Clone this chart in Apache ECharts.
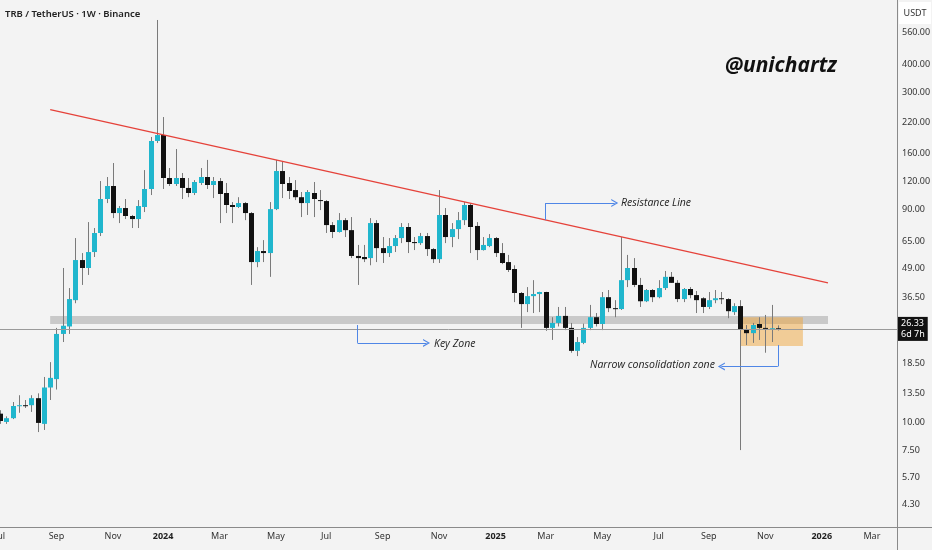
<!DOCTYPE html>
<html>
<head>
<meta charset="utf-8">
<script src="https://cdn.jsdelivr.net/npm/echarts@6/dist/echarts.min.js"></script>
<style>
  html, body { margin: 0; padding: 0; background: #f3f3f3; }
  #chart { width: 932px; height: 550px; }
</style>
</head>
<body>
<div id="chart"></div>
<script>
// weekly TRB/USDT candles, first bar = week of 2023-07-03
let weekStart = '2023-07-03'
let weekCount = 144

// [open, close, low, high]
let ohlc = [
  [11.0, 10.2, 9.9, 11.4], [10.1, 10.5, 9.9, 10.7], [10.5, 11.9, 10.4, 12.4], [11.9, 12.0, 11.1, 13.3],
  [12.0, 11.95, 11.66, 12.66], [12.0, 12.9, 11.2, 13.3], [12.9, 10.0, 9.1, 13.56], [9.9, 14.4, 9.3, 16.05],
  [14.4, 15.9, 12.66, 18.7], [15.7, 25.0, 14.1, 26.6], [25.0, 27.2, 23.0, 49.3], [27.0, 35.8, 25.0, 40.1],
  [35.4, 53.5, 34.3, 67.1], [53.5, 49.3, 41.4, 57.5], [49.3, 58.1, 45.9, 79.1], [58.1, 70.7, 55.2, 74.4],
  [70.7, 100.3, 68.5, 120.7], [100.3, 114.7, 96.2, 125.8], [114.7, 86.8, 82.4, 145.3], [86.8, 91.4, 78.3, 93.3],
  [91.4, 84.2, 81.6, 100.3], [84.2, 81.6, 74.4, 85.1], [81.6, 93.3, 74.4, 99.2], [92.4, 111.2, 87.7, 135.1],
  [111.2, 182.3, 104.5, 190], [182.3, 193.8, 178.5, 633.7], [193.8, 124.5, 111.2, 233.3], [124.5, 117.1, 114.7, 138.0],
  [117.1, 124.5, 114.7, 167.8], [124.5, 112.4, 100.3, 131.1], [112.4, 106.7, 102.2, 124.5], [106.7, 119.5, 104.5, 121.9],
  [118.3, 125.8, 115.9, 138], [125.8, 115.9, 111.2, 150], [115.9, 120.7, 101.3, 125.8], [120.7, 105.6, 78.3, 124.5],
  [106.7, 94.3, 86.8, 118.3], [94.3, 92.4, 78.3, 97.2], [92.4, 96.2, 91.4, 102.2], [96.2, 86.8, 80.7, 97.2],
  [86.8, 52.4, 41.4, 87.7], [52.4, 58.7, 49.7, 61.1], [58.7, 57.5, 52.4, 65.7], [57.5, 90.4, 45.0, 97.2],
  [90.4, 133.8, 89.5, 150], [133.8, 117.1, 101.3, 146.8], [118.3, 108.9, 100.3, 125.8], [110, 102.2, 99.2, 121.9],
  [102.2, 96.2, 83.3, 107.8], [96.2, 107.8, 85.1, 110], [106.7, 100.3, 83.3, 119.5], [99.2, 98.2, 89.5, 110],
  [98.2, 76.7, 70.7, 99.2], [76.7, 71.4, 67.1, 79.1], [71.4, 80.7, 71.0, 86.8], [80.7, 72.8, 67.8, 82.4],
  [72.8, 55.8, 54.6, 83.3], [55.8, 54.6, 41.4, 62.5], [55.2, 54.0, 52.4, 62.5], [54.6, 78.3, 50.7, 82.4],
  [78.3, 60.5, 52.4, 80.7], [60.5, 57.5, 51.9, 67.8], [57.5, 61.8, 55.2, 67.1], [61.8, 67.1, 58.1, 69.2],
  [67.1, 75.2, 63.7, 78.3], [75.2, 64.4, 57.5, 78.3], [64.4, 63.7, 59.3, 67.8], [63.7, 68.5, 62.5, 70.7],
  [68.5, 59.9, 55.8, 70.7], [59.9, 54.0, 51.9, 60.5], [54.0, 85.1, 51.9, 110], [85.1, 67.8, 63.7, 91.4],
  [67.8, 73.6, 61.1, 78.3], [73.6, 80.7, 66.4, 87.7], [80.7, 94.3, 76.7, 97.2], [94.3, 75.2, 57.5, 96.2],
  [76.0, 59.3, 53.5, 79.1], [59.3, 62.5, 59.0, 67.8], [61.8, 67.1, 61.1, 69.9], [67.1, 57.5, 55.2, 67.8],
  [57.5, 51.9, 51.3, 63.7], [52.4, 48.3, 47.3, 56.4], [48.8, 38.1, 34.7, 50.7], [38.1, 34.0, 26.6, 38.5],
  [34.0, 36.9, 31.3, 40.5], [36.9, 37.7, 31.0, 43.5], [37.7, 38.5, 31.3, 38.6], [38.5, 26.6, 25.8, 38.6],
  [26.6, 28.0, 23.5, 29.7], [28.0, 30.1, 27.0, 33.0], [30.1, 26.6, 26.0, 33.0], [26.6, 21.0, 20.6, 28.0],
  [21.0, 23.0, 19.9, 24.2], [22.8, 26.6, 22.5, 27.8], [26.6, 29.7, 26.0, 33.7], [29.7, 27.7, 27.0, 31.0],
  [27.7, 36.5, 26.0, 38.5], [36.5, 32.6, 31.3, 39.3], [32.6, 32.3, 29.7, 35.4], [32.3, 43.5, 32.0, 67.8],
  [43.5, 49.3, 40.5, 56.4], [49.3, 41.4, 40.5, 54.6], [41.4, 35.0, 33.0, 44.5], [35.0, 39.3, 34.7, 39.7],
  [39.3, 36.5, 34.7, 39.7], [36.5, 40.1, 36.1, 43.5], [40.1, 45.0, 39.3, 47.8], [45.0, 42.3, 42.3, 47.3],
  [42.3, 35.8, 34.7, 43.5], [35.8, 39.7, 34.7, 40.1], [39.7, 37.3, 36.1, 40.5], [37.3, 35.4, 31.0, 38.9],
  [36.1, 33.0, 31.0, 36.5], [33.0, 35.4, 32.3, 38.5], [35.4, 36.1, 34.3, 39.3], [36.1, 35.8, 34.0, 38.5],
  [35.8, 31.6, 29.4, 36.1], [31.3, 33.3, 30.4, 34.3], [33.3, 26.3, 7.56, 35.4], [26.3, 25.2, 22.3, 27.4],
  [25.2, 27.4, 22.8, 28.0], [27.7, 26.6, 23.5, 29.7], [26.6, 26.4, 20.6, 30.4], [26.4, 26.5, 23.0, 33.7],
  [26.5, 26.33, 25.9, 27.3]
]

let priceTicks = [560, 400, 300, 220, 160, 120, 90, 65, 49, 36.5, 18.5, 13.5, 10, 7.5, 5.7, 4.3]
let lastPrice = 26.33
let countdown = '6d 7h'
let monthNames = ['Jan','Feb','Mar','Apr','May','Jun','Jul','Aug','Sep','Oct','Nov','Dec']

// drawn levels (bar index, price)
let resistance = [[8, 252], [132, 42.3]]
let keyZone = { from: 8, to: 132, low: 27.7, high: 30.1 }
let consolidation = { from: 118, to: 128, low: 22.1, high: 29.7 }

let categories = []
let t0 = Date.parse(weekStart + 'T00:00:00Z')
for (let i = 0; i < weekCount; i++) {
  categories.push(new Date(t0 + i * 7 * 864e5).toISOString().slice(0, 10))
}
let candles = ohlc.map((d, i) => [i].concat(d))

let up = '#20b6cd', down = '#111111', wick = '#7a7a7a', blue = '#4f86e6'
let chevron = 'path://M0,10 L5,0 L10,10 L8.4,10 L5,3.2 L1.6,10 Z'

function arrowLeg(a, b, head) {
  return [
    { coord: a, symbol: 'none' },
    { coord: b, symbol: head ? chevron : 'none', symbolSize: [8, 7] }
  ]
}

let chart = echarts.init(document.getElementById('chart'))
chart.setOption({
  animation: false,
  backgroundColor: '#f3f3f3',
  grid: { left: 0, right: 35, top: 0, bottom: 23, containLabel: false, outerBoundsMode: 'none' },
  xAxis: {
    type: 'category',
    data: categories,
    boundaryGap: false,
    axisLine: { show: false },
    axisTick: { show: false },
    splitLine: { show: false },
    axisLabel: {
      color: '#333',
      fontSize: 9,
      fontFamily: 'Noto Sans',
      margin: 5,
      interval: function (idx, val) {
        let m = new Date(val).getUTCMonth()
        if (m % 2 !== 0) return false
        return idx === 0 || new Date(categories[idx - 1]).getUTCMonth() !== m
      },
      formatter: function (val) {
        let d = new Date(val)
        let m = d.getUTCMonth()
        return m === 0 ? '{y|' + d.getUTCFullYear() + '}' : monthNames[m]
      },
      rich: { y: { fontWeight: 'bold', fontSize: 9, color: '#222', fontFamily: 'Noto Sans' } }
    }
  },
  yAxis: {
    type: 'log',
    logBase: 10,
    min: 3.424,
    max: 778.6,
    position: 'right',
    axisLine: { show: false },
    axisTick: { show: false },
    axisLabel: { show: false },
    splitLine: { show: false }
  },
  series: [
    {
      // key zone band, under the candles
      type: 'line',
      data: [],
      z: 1,
      silent: true,
      markArea: {
        silent: true,
        itemStyle: { color: 'rgba(165,165,165,0.55)' },
        data: [[{ coord: [keyZone.from, keyZone.low] }, { coord: [keyZone.to, keyZone.high] }]]
      }
    },
    {
      type: 'custom',
      z: 2,
      data: candles,
      encode: { x: 0, y: [1, 2, 3, 4] },
      renderItem: function (params, api) {
        let x = api.value(0)
        let o = api.value(1), c = api.value(2), l = api.value(3), h = api.value(4)
        let pO = api.coord([x, o]), pC = api.coord([x, c])
        let pL = api.coord([x, l]), pH = api.coord([x, h])
        let cx = Math.round(pO[0])
        let w = 5
        let top = Math.min(pO[1], pC[1])
        let hgt = Math.max(1, Math.abs(pO[1] - pC[1]))
        return {
          type: 'group',
          children: [
            { type: 'line', shape: { x1: cx + 0.5, y1: pH[1], x2: cx + 0.5, y2: pL[1] }, style: { stroke: wick, lineWidth: 1 } },
            { type: 'rect', shape: { x: cx + 0.5 - w / 2, y: top, width: w, height: hgt }, style: { fill: c >= o ? up : down } }
          ]
        }
      },
      markLine: {
        silent: true,
        symbol: 'none',
        animation: false,
        data: priceTicks.map(v => ({
          yAxis: v,
          lineStyle: { color: 'rgba(0,0,0,0)', width: 0 },
          label: { show: true, position: 'end', distance: 5, color: '#333', fontSize: 9, fontFamily: 'Noto Sans', formatter: v.toFixed(2) }
        })).concat([{
          yAxis: lastPrice,
          lineStyle: { color: '#9a9a9a', width: 1, type: 'solid' },
          label: {
            position: 'end', distance: 1, color: '#fff', fontSize: 9, fontFamily: 'Noto Sans',
            backgroundColor: '#111', padding: [1, 3], lineHeight: 11,
            formatter: lastPrice.toFixed(2) + '\n' + countdown
          }
        }])
      }
    },
    {
      // drawings on top
      type: 'line',
      data: [],
      z: 3,
      silent: true,
      markArea: {
        silent: true,
        itemStyle: { color: 'rgba(240,165,60,0.5)' },
        data: [[{ coord: [consolidation.from, consolidation.high] }, { coord: [consolidation.to, consolidation.low] }]]
      },
      markLine: {
        silent: true,
        symbol: 'none',
        label: { show: false },
        data: [
          [{ coord: resistance[0], lineStyle: { color: '#e5423a', width: 1.3, type: 'solid' } }, { coord: resistance[1] }],
          arrowLeg([87, 80.7], [87, 96.2], false),
          arrowLeg([87, 96.2], [98, 96.2], true),
          arrowLeg([57, 27.4], [57, 22.8], false),
          arrowLeg([57, 22.8], [68, 22.8], true),
          arrowLeg([124, 22.3], [124, 17.9], false),
          arrowLeg([124, 17.9], [115, 17.9], true)
        ].map((d, i) => {
          if (i > 0) d[0].lineStyle = { color: blue, width: 1, type: 'solid' }
          return d
        })
      }
    }
  ],
  graphic: [
    { type: 'line', shape: { x1: 897.5, y1: 0, x2: 897.5, y2: 550 }, style: { stroke: '#8a8a8a', lineWidth: 1 }, silent: true },
    { type: 'line', shape: { x1: 0, y1: 527.5, x2: 932, y2: 527.5 }, style: { stroke: '#8a8a8a', lineWidth: 1.2 }, silent: true },
    { type: 'rect', shape: { x: 899, y: 2, width: 32, height: 22 }, style: { fill: '#ffffff' }, silent: true },
    { type: 'text', x: 915, y: 13, style: { text: 'USDT', fill: '#333', font: '9px "Noto Sans"', textAlign: 'center', textVerticalAlign: 'middle' } },
    { type: 'text', x: 5, y: 14, style: { text: 'TRB / TetherUS · 1W · Binance', fill: '#222', font: '600 9.5px "Noto Sans"', textVerticalAlign: 'middle' } },
    { type: 'text', x: 725, y: 66, style: { text: '@unichartz', fill: '#111', font: 'italic bold 21px "Open Sans"', textVerticalAlign: 'middle' } },
    { type: 'text', x: 621, y: 203, style: { text: 'Resistance Line', fill: '#222', font: 'italic 10.5px "Open Sans"', textVerticalAlign: 'middle' } },
    { type: 'text', x: 434, y: 344, style: { text: 'Key Zone', fill: '#222', font: 'italic 10.5px "Open Sans"', textVerticalAlign: 'middle' } },
    { type: 'text', x: 590, y: 365, style: { text: 'Narrow consolidation zone', fill: '#222', font: 'italic 10.5px "Open Sans"', textVerticalAlign: 'middle' } }
  ]
})
</script>
</body>
</html>
